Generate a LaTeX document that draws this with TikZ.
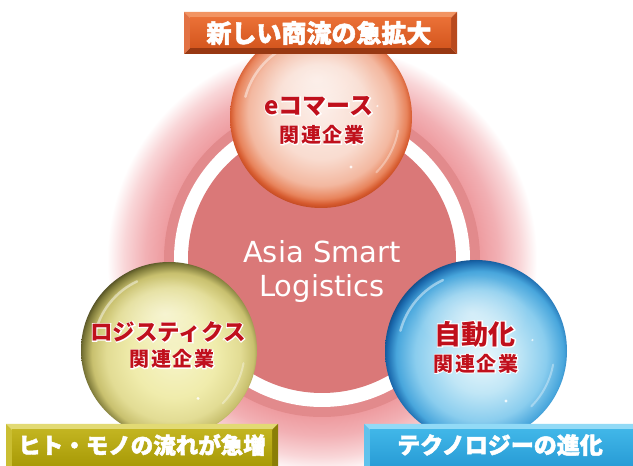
\documentclass[tikz,border=0pt]{standalone}
\usepackage{fontspec}
\usetikzlibrary{fadings}
\newfontfamily\jp{Noto Sans CJK JP}
\newfontfamily\jpheavy{Noto Sans CJK JP}[FakeBold=2]
\newfontfamily\jphalo{Noto Sans CJK JP}[FakeBold=8]
\newfontfamily\lat{DejaVu Sans}

% palette
\definecolor{labelred}{HTML}{C0101C}
\definecolor{discpink}{HTML}{DA7878}
\definecolor{ringpink}{HTML}{E28A8C}
\definecolor{glowA}{HTML}{EE9CA0}
\definecolor{glowB}{HTML}{F2B0B4}
\definecolor{glowC}{HTML}{F9D6D8}
% red ball
\definecolor{rbA}{HTML}{FCEEE8}\definecolor{rbB}{HTML}{F9DCD0}\definecolor{rbC}{HTML}{F3B8A0}
\definecolor{rbD}{HTML}{E8845C}\definecolor{rbE}{HTML}{D65A2E}\definecolor{rbF}{HTML}{B8421C}
% yellow ball
\definecolor{ybA}{HTML}{F6F4C8}\definecolor{ybB}{HTML}{F0ECAC}\definecolor{ybC}{HTML}{E2DC94}
\definecolor{ybD}{HTML}{C8C06E}\definecolor{ybE}{HTML}{7C7838}\definecolor{ybF}{HTML}{2A2812}
% blue ball
\definecolor{bbA}{HTML}{E8F7FC}\definecolor{bbB}{HTML}{C0E6F6}\definecolor{bbC}{HTML}{8ACDEE}
\definecolor{bbD}{HTML}{48A6DC}\definecolor{bbE}{HTML}{1A68AC}\definecolor{bbF}{HTML}{0C3466}
% banners
\definecolor{ortop}{HTML}{F29462}\definecolor{orleft}{HTML}{E27244}\definecolor{orface}{HTML}{EA7036}
\definecolor{orfacelow}{HTML}{D4561E}\definecolor{orbot}{HTML}{983812}\definecolor{orright}{HTML}{B84A1E}
\definecolor{oltop}{HTML}{E2DA74}\definecolor{olleft}{HTML}{CABE32}\definecolor{olface}{HTML}{C2B420}
\definecolor{olfacelow}{HTML}{A89A06}\definecolor{olbot}{HTML}{6C6200}\definecolor{olright}{HTML}{8A7E06}
\definecolor{bltop}{HTML}{92DAF6}\definecolor{blleft}{HTML}{60C2EC}\definecolor{blface}{HTML}{40B6E8}
\definecolor{blfacelow}{HTML}{289CD6}\definecolor{blbot}{HTML}{186A9A}\definecolor{blright}{HTML}{1E80B8}

% radial shadings: the rim of a shaded circle sits at 25bp
\pgfdeclareradialshading{glowshade}{\pgfpoint{0bp}{0bp}}{color(0bp)=(glowA); color(18.4bp)=(glowA); color(20.5bp)=(glowB); color(23bp)=(glowC); color(25bp)=(white); color(50bp)=(white)}
\pgfdeclareradialshading{redball}{\pgfpoint{0bp}{2bp}}{color(0bp)=(rbA); color(13bp)=(rbB); color(20bp)=(rbC); color(23.5bp)=(rbD); color(25bp)=(rbE); color(26.5bp)=(rbF); color(50bp)=(rbF)}
\pgfdeclareradialshading{yellowball}{\pgfpoint{2bp}{-2bp}}{color(0bp)=(ybA); color(12bp)=(ybB); color(19bp)=(ybC); color(23bp)=(ybD); color(25.5bp)=(ybE); color(27.5bp)=(ybF); color(50bp)=(ybF)}
\pgfdeclareradialshading{blueball}{\pgfpoint{2bp}{-2bp}}{color(0bp)=(bbA); color(10bp)=(bbB); color(18bp)=(bbC); color(23bp)=(bbD); color(25.5bp)=(bbE); color(27.5bp)=(bbF); color(50bp)=(bbF)}

\tikzfading[name=softedge, inner color=transparent!0, outer color=transparent!100]

\tikzset{
  banner text/.style={text=white, font=\jpheavy\bfseries\fontsize{25}{25}\selectfont, inner sep=0pt},
  halo/.style={text=white, inner sep=0pt},
  center text/.style={text=white, font=\lat\fontsize{29}{34}\selectfont, align=center, inner sep=0pt},
}

% glass ball: centre x, centre y, radius, shading
\newcommand\glassball[4]{%
  \shade[shading=#4] (#1,#2) circle (#3);
  % glossy cap and rim reflections
  \fill[white, opacity=.45, path fading=softedge] ({#1-0.05*#3},{#2+0.42*#3}) ellipse ({0.62*#3} and {0.42*#3});
  \draw[white, opacity=.45, line width=2.5, line cap=round] ({#1+0.86*#3*cos(115)},{#2+0.86*#3*sin(115)}) arc[start angle=115, end angle=165, radius={0.86*#3}];
  \draw[white, opacity=.35, line width=2, line cap=round] ({#1+0.86*#3*cos(-10)},{#2+0.86*#3*sin(-10)}) arc[start angle=-10, end angle=-45, radius={0.86*#3}];
  \fill[white, opacity=.85] ({#1+0.33*#3},{#2-0.55*#3}) circle (1.6);
  \fill[white, opacity=.7] ({#1+0.62*#3},{#2+0.12*#3}) circle (1.2);
}

% red label on a white emboldened halo: name, size, position, text, extra font setup
\newcommand\halolabel[5]{%
  \node[halo, font=\jphalo\bfseries\fontsize{#2}{#2}\selectfont#5] at (#3) {#4};
  \node[inner sep=0pt, text=labelred, font=\jp\bfseries\fontsize{#2}{#2}\selectfont#5] (#1) at (#3) {#4};
}

% bevelled banner: x1, y1, x2, y2, colour prefix
\newcommand\bevelbox[5]{%
  \fill[#5top] (#1,#4) -- (#3,#4) -- ({#3-6},{#4-6}) -- ({#1+6},{#4-6}) -- cycle;
  \fill[#5bot] (#1,#2) -- (#3,#2) -- ({#3-6},{#2+6}) -- ({#1+6},{#2+6}) -- cycle;
  \fill[#5left] (#1,#2) -- (#1,#4) -- ({#1+6},{#4-6}) -- ({#1+6},{#2+6}) -- cycle;
  \fill[#5right] (#3,#2) -- (#3,#4) -- ({#3-6},{#4-6}) -- ({#3-6},{#2+6}) -- cycle;
  \shade[top color=#5face, bottom color=#5facelow] ({#1+6},{#2+6}) rectangle ({#3-6},{#4-6});
}

\begin{document}
\begin{tikzpicture}[x=1pt, y=1pt]
  \useasboundingbox (0,0) rectangle (633,466);
  \clip (0,0) rectangle (633,466);
  \fill[white] (0,0) rectangle (633,466);

  % halo, rings and disc
  \shade[shading=glowshade] (322,207) circle (215);
  \fill[ringpink] (322,207) circle (158);
  \fill[white] (322,207) circle (148);
  \fill[discpink] (322,207) circle (134);
  \node[center text] (core) at (322,194) {Asia Smart\\Logistics};

  % glass balls
  \glassball{321}{349}{91}{redball}
  \glassball{169}{116}{88}{yellowball}
  \glassball{476}{115}{91}{blueball}

  % ball labels
  \halolabel{ecTitle}{24}{319,359.5}{eコマース}{}
  \halolabel{ecSub}{20}{322,331}{関連企業}{\addfontfeatures{LetterSpace=8}}
  \halolabel{lgTitle}{22.5}{168,134}{ロジスティクス}{}
  \halolabel{lgSub}{20}{172,107}{関連企業}{\addfontfeatures{LetterSpace=8}}
  \halolabel{auTitle}{27}{475,132}{自動化}{}
  \halolabel{auSub}{20}{476,102.5}{関連企業}{\addfontfeatures{LetterSpace=8}}

  % banners
  \bevelbox{184}{412}{457}{454}{or}
  \node[banner text] (topCap) at (319,433) {新しい商流の急拡大};
  \bevelbox{6}{-6}{278}{42}{ol}
  \node[banner text, font=\jpheavy\bfseries\fontsize{22.5}{22.5}\selectfont] (leftCap) at (142,21) {ヒト・モノの流れが急増};
  \bevelbox{364}{-6}{640}{42}{bl}
  \node[banner text, font=\jpheavy\bfseries\fontsize{23}{23}\selectfont] (rightCap) at (500,21) {テクノロジーの進化};
\end{tikzpicture}
\end{document}
